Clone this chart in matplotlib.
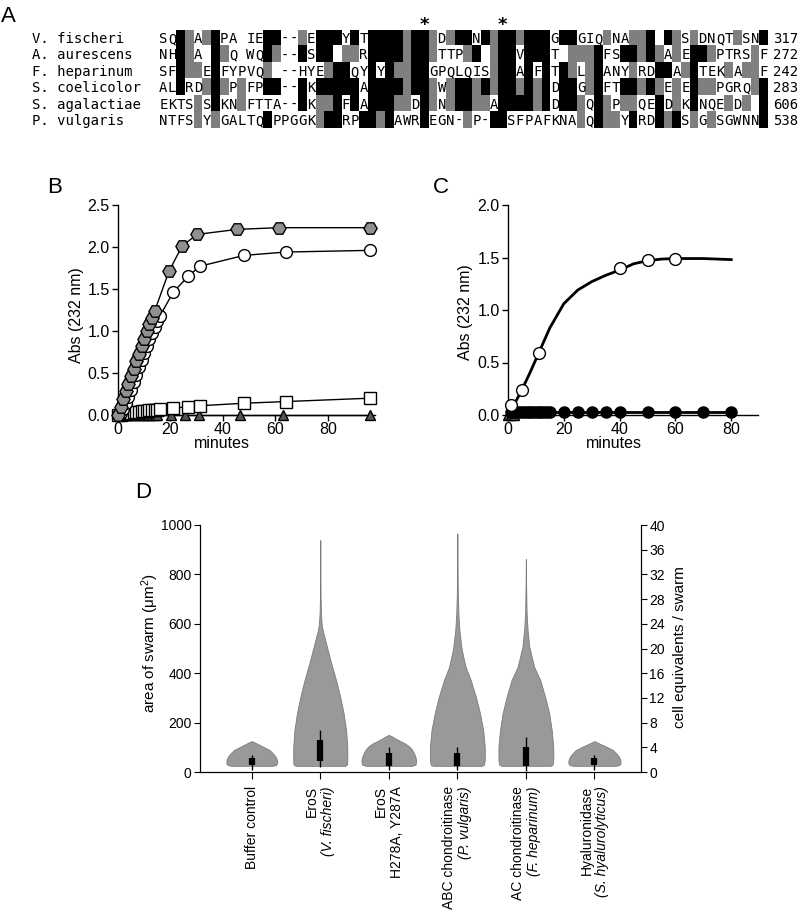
import matplotlib
matplotlib.use("Agg")
import numpy as np
import matplotlib.pyplot as plt
from matplotlib.transforms import offset_copy, blended_transform_factory

plt.rcParams['font.family'] = ['Liberation Sans', 'DejaVu Sans']
plt.rcParams['mathtext.default'] = 'regular'

W, H = 800, 914

# ---------------------------------------------------------------- panel A data
species = ["V. fischeri", "A. aurescens", "F. heparinum",
           "S. coelicolor", "S. agalactiae", "P. vulgaris"]
seq_end = [317, 272, 242, 283, 606, 538]
# '#' = identical (black), '+' = similar (grey), other = unshaded residue
alignment = [
    "SQ#+A+#PA " "IE##--+E##" "#Y#T####+#" "#+D+##N#+#" "#+###G##GI" "Q+NA++# #+" "S+DNQT+SN#",
    "NH#+A #+Q " "WQ#+--#S##" " ++R####+#" "#+TTP+# +#" "#V###T +++" "#FS##+#+A+" "E##+PTRS+F",
    "SF#++E#FYP" "VQ+ --HYE+" "##QY#Y#++#" "#GPQLQIS+#" "#A#F#T#+L+" "#ANY+RD##A" "+#TEK+A++F",
    "AL#RD+#+P+" "FP##--#K##" "###A####+#" "#+W+##+#+#" "#+#+#D##G+" "#FT##+#+E+" "E#++PGRQ+#",
    "EKTS+S#KN+" "FTTA--#K++" "#F#A###++D" "#+N+##++A#" "###+#D##+Q" "#+P++QE#D+" "K#NQE+D+ #",
    "NTFS+Y+GAL" "TQ#PPGGK+#" "#RP##+#AWR" "#EGN-+P-##" "SFPAFKNA+Q" "#++Y#RD#+#" "S+G+SGWNN#",
]
star_cols = [30, 39]

# ---------------------------------------------------------------- panel B data
hex_x = [0, 1, 2, 3, 4, 5, 6, 7, 8, 9, 10, 11, 12, 13, 14, 19.4, 24.4, 30.1, 45.5, 61.3, 95.9]
hex_y = [0.0, 0.1, 0.19, 0.28, 0.37, 0.46, 0.55, 0.64, 0.73, 0.82, 0.91, 1.0, 1.08, 1.16, 1.24,
         1.71, 2.01, 2.15, 2.21, 2.23, 2.23]
circ_x = [0, 1, 2, 3, 4, 5, 6, 7, 8, 9, 10, 11, 12, 13, 14, 15, 16, 21, 26.7, 31.1, 48, 63.9, 95.9]
circ_y = [0.0, 0.02, 0.07, 0.14, 0.22, 0.3, 0.39, 0.48, 0.57, 0.65, 0.74, 0.82, 0.9, 0.98,
          1.05, 1.12, 1.18, 1.46, 1.65, 1.77, 1.9, 1.94, 1.96]
sq_x = [0, 1, 2, 3, 4, 5, 6, 7, 8, 9, 10, 11, 12, 13, 14, 15, 16, 21, 26.7, 31.1, 48, 63.9, 95.9]
sq_y = [0.0, 0.005, 0.01, 0.015, 0.02, 0.025, 0.03, 0.035, 0.04, 0.045, 0.05, 0.05, 0.055,
        0.06, 0.06, 0.065, 0.07, 0.08, 0.1, 0.11, 0.14, 0.16, 0.2]
tri_x = [0, 1, 2, 3, 4, 5, 6, 7, 8, 9, 10, 11, 12, 13, 14, 15, 20.3, 25.7, 30.8, 46.3, 62.9, 95.9]
tri_y = [0.0] * 22

# ---------------------------------------------------------------- panel C data
fit_x = [0, 1, 3, 5, 8, 11, 15, 20, 25, 30, 35, 40, 45, 50, 55, 60, 70, 80]
fit_y = [0.0, 0.05, 0.14, 0.24, 0.41, 0.59, 0.83, 1.06, 1.19, 1.27, 1.33, 1.38, 1.44,
         1.47, 1.485, 1.49, 1.49, 1.48]
open_x = [1.2, 5.1, 11.1, 40, 50.1, 60]
open_y = [0.1, 0.24, 0.59, 1.40, 1.48, 1.49]
dot_x = [1, 2, 3, 4, 5, 6, 7, 8, 9, 10, 11, 12, 13, 14, 15, 20, 25, 30, 35, 40, 50, 60, 70, 80]
dot_y = [0.03] * 24
ctri_x = [0, 1, 2]
ctri_y = [0.0, 0.0, 0.0]

# ---------------------------------------------------------------- panel D data
cat_line1 = ["Buffer control", "EroS", "EroS", "ABC chondroitinase",
             "AC chondroitinase", "Hyaluronidase"]
cat_line2 = [None, "(V. fischeri)", "H278A, Y287A", "(P. vulgaris)",
             "(F. heparinum)", "(S. hyalurolyticus)"]
cat_line2_italic = [False, True, False, True, True, True]
viol_vals = [
    [25, 28, 35, 45, 55, 65, 75, 89, 103, 113, 120, 125],
    [25, 30, 50, 103, 170, 238, 305, 372, 440, 507, 575, 600, 642, 700, 800, 939],
    [25, 30, 45, 60, 75, 90, 103, 115, 125, 135, 145, 150],
    [25, 30, 50, 103, 170, 238, 305, 372, 426, 475, 507, 575, 643, 750, 966],
    [25, 30, 50, 103, 170, 238, 305, 372, 426, 507, 575, 650, 750, 862],
    [25, 28, 35, 45, 55, 65, 75, 89, 103, 113, 120, 125],
]
viol_half = [
    [0.30, 0.35, 0.37, 0.37, 0.36, 0.34, 0.31, 0.26, 0.16, 0.09, 0.04, 0.0],
    [0.36, 0.39, 0.395, 0.394, 0.377, 0.34, 0.29, 0.23, 0.16, 0.097, 0.034, 0.02, 0.01, 0.005, 0.002, 0.0],
    [0.34, 0.39, 0.40, 0.39, 0.37, 0.34, 0.30, 0.24, 0.17, 0.10, 0.04, 0.0],
    [0.36, 0.39, 0.40, 0.40, 0.377, 0.33, 0.27, 0.195, 0.12, 0.08, 0.058, 0.03, 0.015, 0.005, 0.0],
    [0.36, 0.39, 0.40, 0.40, 0.377, 0.34, 0.28, 0.21, 0.12, 0.05, 0.025, 0.01, 0.004, 0.0],
    [0.31, 0.36, 0.38, 0.38, 0.37, 0.35, 0.32, 0.27, 0.17, 0.09, 0.04, 0.0],
]
box_q1 = [28, 45, 25, 25, 25, 28]
box_q3 = [55, 130, 78, 78, 103, 57]
whisk_lo = [10, 20, 10, 10, 5, 10]
whisk_hi = [69, 170, 103, 103, 143, 69]


def fig_xy(x, y):
    return x / W, 1 - y / H


fig = plt.figure(figsize=(W / 100, H / 100), dpi=100)

# ---- A: alignment ----------------------------------------------------------
n_rows, n_cols = len(alignment), len(alignment[0])
axa = fig.add_axes([159 / W, 1 - 128.4 / H, 609 / W, 98.4 / H])
rgb = np.ones((n_rows, n_cols, 3))
for r, row in enumerate(alignment):
    for c, ch in enumerate(row):
        if ch == '#':
            rgb[r, c] = 0.0
        elif ch == '+':
            rgb[r, c] = 0.5
axa.imshow(rgb, extent=(0, n_cols, n_rows, 0), aspect='auto', interpolation='nearest')
for r, row in enumerate(alignment):
    for c, ch in enumerate(row):
        if ch not in '#+ ':
            axa.text(c + 0.5, r + 0.55, ch, ha='center', va='center',
                     family='DejaVu Sans Mono', fontsize=10)
    axa.text(-14.6, r + 0.55, species[r], ha='left', va='center',
             family='DejaVu Sans Mono', fontsize=10)
    axa.text(70.6, r + 0.55, str(seq_end[r]), ha='left', va='center',
             family='DejaVu Sans Mono', fontsize=10)
for c in star_cols:
    axa.text(c + 0.5, -0.3, '*', ha='center', va='center', fontsize=13,
             fontweight='bold', family='DejaVu Sans')
axa.set_xlim(0, n_cols)
axa.set_ylim(n_rows, 0)
axa.axis('off')


def style_xy(ax):
    for s in ['top', 'right']:
        ax.spines[s].set_visible(False)
    for s in ['left', 'bottom']:
        ax.spines[s].set_linewidth(1)
    ax.tick_params(direction='out', length=4, width=1, labelsize=11.5, pad=2)
    ax.tick_params(axis='x', pad=1)


# ---- B ---------------------------------------------------------------------
axb = fig.add_axes([118 / W, 1 - 415 / H, 256.7 / W, 210 / H])
kw = dict(color='k', lw=1, clip_on=False, markeredgecolor='k', markeredgewidth=1)
axb.plot(tri_x, tri_y, marker='^', ms=7.5, markerfacecolor='#555555', zorder=3, **kw)
axb.plot(sq_x, sq_y, marker='s', ms=8, markerfacecolor='white', zorder=4, **kw)
axb.plot(circ_x, circ_y, marker='o', ms=8.5, markerfacecolor='white', zorder=5, **kw)
axb.plot(hex_x, hex_y, marker='H', ms=9.5, markerfacecolor='#909090', zorder=6, **kw)
axb.set_xlim(0, 97.8)
axb.set_ylim(0, 2.5)
axb.set_xticks([0, 20, 40, 60, 80])
axb.set_yticks([0, 0.5, 1.0, 1.5, 2.0, 2.5])
axb.set_yticklabels(['0.0', '0.5', '1.0', '1.5', '2.0', '2.5'])
style_xy(axb)
fig.text(*fig_xy(77, 315), 'Abs (232 nm)', rotation=90, ha='center', va='center', fontsize=11.5)
fig.text(*fig_xy(222, 443), 'minutes', ha='center', va='center', fontsize=11.5)

# ---- C ---------------------------------------------------------------------
axc = fig.add_axes([508 / W, 1 - 415 / H, 250.3 / W, 210 / H])
axc.plot(fit_x, fit_y, color='k', lw=2, clip_on=False, zorder=3)
axc.plot(ctri_x, ctri_y, marker='^', ms=7.5, markerfacecolor='#555555', ls='none', zorder=3,
         clip_on=False, markeredgecolor='k')
axc.plot(dot_x, dot_y, marker='o', ms=8, color='k', lw=2, clip_on=False, zorder=4)
axc.plot(open_x, open_y, marker='o', ms=8.5, ls='none', markerfacecolor='white',
         markeredgecolor='k', markeredgewidth=1, clip_on=False, zorder=5)
axc.set_xlim(0, 89.7)
axc.set_ylim(0, 2.0)
axc.set_xticks([0, 20, 40, 60, 80])
axc.set_yticks([0, 0.5, 1.0, 1.5, 2.0])
axc.set_yticklabels(['0.0', '0.5', '1.0', '1.5', '2.0'])
style_xy(axc)
fig.text(*fig_xy(465, 312), 'Abs (232 nm)', rotation=90, ha='center', va='center', fontsize=11.5)
fig.text(*fig_xy(614, 443), 'minutes', ha='center', va='center', fontsize=11.5)

# ---- D ---------------------------------------------------------------------
axd = fig.add_axes([200 / W, 1 - 772 / H, 441 / W, 247 / H])
for i in range(len(cat_line1)):
    v = np.array(viol_vals[i])
    h = np.array(viol_half[i])
    axd.fill_betweenx(v, i - h, i + h, facecolor='#999999', edgecolor='#7a7a7a', lw=0.6, zorder=2)
    axd.vlines(i, whisk_lo[i], whisk_hi[i], color='k', lw=1, zorder=3)
    axd.vlines(i, box_q1[i], box_q3[i], color='k', lw=4.5, zorder=4)
axd.set_xlim(-0.755, 5.68)
axd.set_ylim(0, 1000)
axd.set_yticks(range(0, 1001, 200))
axd.set_xticks(range(len(cat_line1)))
axd.set_xticklabels([])
axd.spines['top'].set_visible(False)
axd.tick_params(direction='out', length=4, width=0.8, labelsize=10, pad=2)
axd.tick_params(axis='x', length=5)
axd2 = axd.twinx()
axd2.set_ylim(0, 40)
axd2.set_yticks(range(0, 41, 4))
axd2.spines['top'].set_visible(False)
axd2.tick_params(direction='out', length=4, width=0.8, labelsize=10, pad=2)

trans = blended_transform_factory(axd.transData, axd.transAxes)
for i in range(len(cat_line1)):
    if cat_line2[i] is None:
        t = offset_copy(trans, fig=fig, x=0, y=-14, units='dots')
        axd.text(i, 0, cat_line1[i], rotation=90, ha='center', va='top', fontsize=10, transform=t)
    else:
        t1 = offset_copy(trans, fig=fig, x=-8, y=-14, units='dots')
        t2 = offset_copy(trans, fig=fig, x=8, y=-14, units='dots')
        axd.text(i, 0, cat_line1[i], rotation=90, ha='center', va='top', fontsize=10, transform=t1)
        axd.text(i, 0, cat_line2[i], rotation=90, ha='center', va='top', fontsize=10,
                 fontstyle='italic' if cat_line2_italic[i] else 'normal', transform=t2)

fig.text(*fig_xy(150, 643), 'area of swarm (μm$^2$)', rotation=90, ha='center', va='center',
         fontsize=11)
fig.text(*fig_xy(680, 647), 'cell equivalents / swarm', rotation=90, ha='center', va='center',
         fontsize=11)

# ---- panel letters ---------------------------------------------------------
for lab, (x, y) in zip("ABCD", [(1, 22), (47, 193), (433, 193), (135, 498)]):
    fig.text(*fig_xy(x, y), lab, fontsize=16, ha='left', va='baseline')

fig.savefig('out.png', dpi=100)
